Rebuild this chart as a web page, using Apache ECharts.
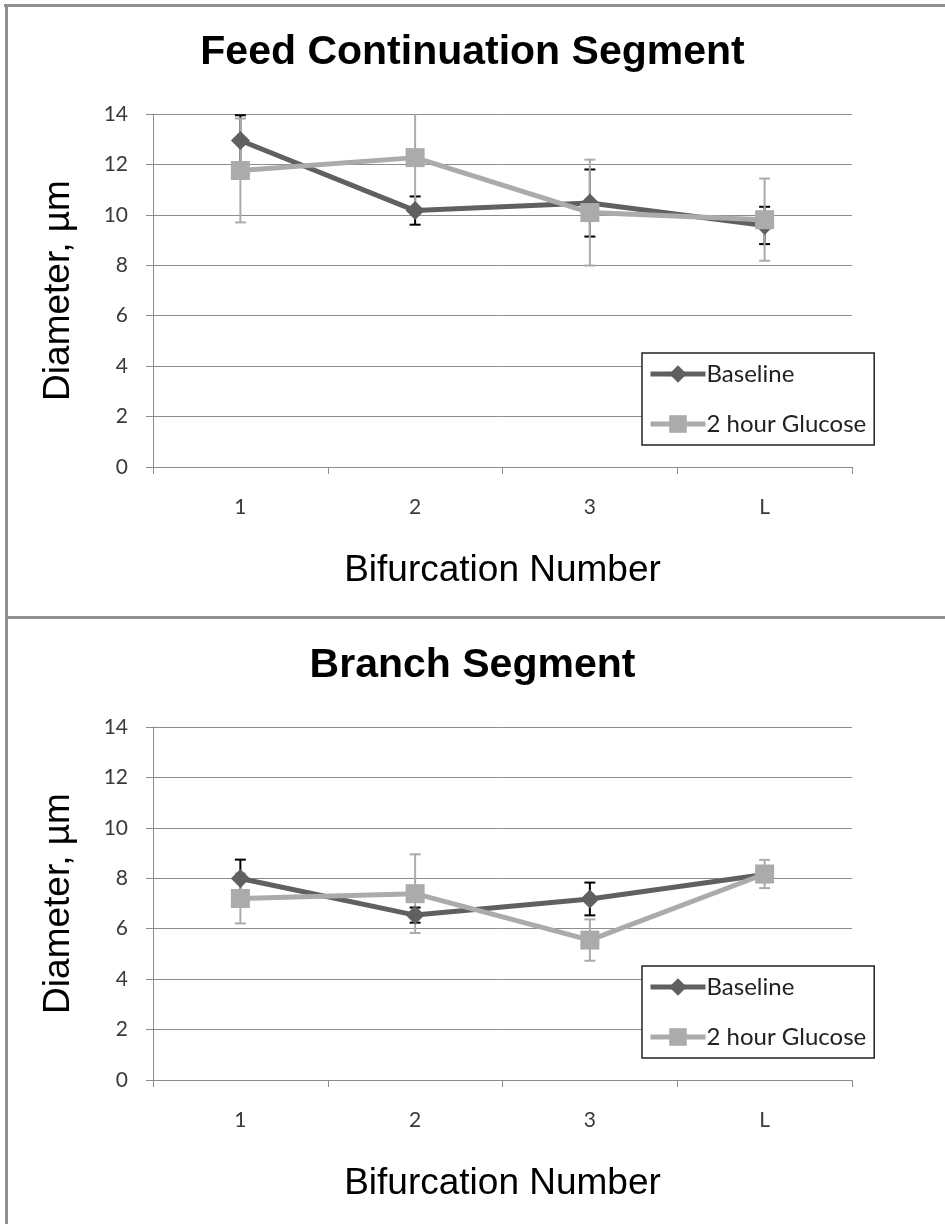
<!DOCTYPE html>
<html>
<head>
<meta charset="utf-8">
<script src="https://cdn.jsdelivr.net/npm/echarts@6/dist/echarts.min.js"></script>
<style>
  html, body { margin: 0; padding: 0; background: #ffffff; }
  #chart { width: 945px; height: 1224px; }
</style>
</head>
<body>
<div id="chart"></div>
<script>
// Bifurcation categories along the x axis
const categories = ['1', '2', '3', 'L'];

// Feed continuation segment diameters (µm) and their error half-widths
const feedBaseline = [12.95, 10.17, 10.47, 9.58];
const feedBaselineErr = [1.0, 0.56, 1.33, 0.74];
const feedGlucose = [11.76, 12.27, 10.09, 9.81];
const feedGlucoseErr = [2.06, 2.0, 2.1, 1.63];

// Branch segment diameters (µm) and their error half-widths
const branchBaseline = [7.99, 6.54, 7.18, 8.15];
const branchBaselineErr = [0.75, 0.3, 0.65, 0.3];
const branchGlucose = [7.20, 7.39, 5.55, 8.17];
const branchGlucoseErr = [0.99, 1.56, 0.82, 0.56];

const seriesNames = ['Baseline', '2 hour Glucose'];
const panelTitles = ['Feed Continuation Segment', 'Branch Segment'];
const xTitle = 'Bifurcation Number';
const yTitle = 'Diameter, µm';

const DARK = '#606060';
const LIGHT = '#ababab';
const AXIS = '#8c8c8c';
const TICK_FONT = 'Lato, "Open Sans", sans-serif';
const HEAD_FONT = '"Liberation Sans", Arial, sans-serif';

// [category index, low, high] rows for the error bars
function errRows(values, errs) {
  return values.map((v, i) => [i, v - errs[i], v + errs[i]]);
}

function errRenderer(color, width) {
  return function (params, api) {
    const idx = api.value(0);
    const top = api.coord([idx, api.value(2)]);
    const bot = api.coord([idx, api.value(1)]);
    const cap = 5.5;
    const style = { stroke: color, lineWidth: width };
    return {
      type: 'group',
      children: [
        { type: 'line', shape: { x1: top[0], y1: top[1], x2: bot[0], y2: bot[1] }, style },
        { type: 'line', shape: { x1: top[0] - cap, y1: top[1], x2: top[0] + cap, y2: top[1] }, style },
        { type: 'line', shape: { x1: bot[0] - cap, y1: bot[1], x2: bot[0] + cap, y2: bot[1] }, style }
      ]
    };
  };
}

const panels = [
  { top: 114, base: feedBaseline, baseErr: feedBaselineErr, glu: feedGlucose, gluErr: feedGlucoseErr },
  { top: 727, base: branchBaseline, baseErr: branchBaselineErr, glu: branchGlucose, gluErr: branchGlucoseErr }
];

const grid = [], xAxis = [], yAxis = [], series = [], legend = [], title = [];

panels.forEach((p, k) => {
  const off = k * 613;
  grid.push({ left: 153, top: p.top, width: 699, height: 353, containLabel: false });
  title.push({
    text: panelTitles[k],
    left: 'center',
    top: 32 + off,
    padding: 0,
    textStyle: { fontFamily: HEAD_FONT, fontWeight: 'bold', fontSize: 41, color: '#000000' }
  });
  xAxis.push({
    type: 'category',
    gridIndex: k,
    data: categories,
    boundaryGap: true,
    axisLine: { show: true, lineStyle: { color: AXIS, width: 1 } },
    axisTick: { show: true, length: 7, alignWithLabel: false, lineStyle: { color: AXIS } },
    axisLabel: { margin: 30, fontFamily: TICK_FONT, fontSize: 21, color: '#3a3a3a' },
    splitLine: { show: false },
    name: xTitle,
    nameLocation: 'middle',
    nameGap: 85,
    nameTextStyle: { fontFamily: HEAD_FONT, fontSize: 37, color: '#000000' }
  });
  yAxis.push({
    type: 'value',
    gridIndex: k,
    min: 0,
    max: 14,
    interval: 2,
    axisLine: { show: true, lineStyle: { color: AXIS, width: 1 } },
    axisTick: { show: true, length: 7, lineStyle: { color: AXIS } },
    axisLabel: { margin: 25, fontFamily: TICK_FONT, fontSize: 21, color: '#3a3a3a' },
    splitLine: { show: true, lineStyle: { color: AXIS, width: 1 } },
    name: yTitle,
    nameLocation: 'middle',
    nameGap: 76,
    nameTextStyle: { fontFamily: HEAD_FONT, fontSize: 37, color: '#000000' }
  });

  series.push({
    name: 'Baseline error',
    type: 'custom',
    xAxisIndex: k, yAxisIndex: k,
    clip: true,
    z: 1,
    encode: { x: 0, y: [1, 2] },
    renderItem: errRenderer('#000000', 2),
    data: errRows(p.base, p.baseErr),
    silent: true
  });
  series.push({
    name: 'Glucose error',
    type: 'custom',
    xAxisIndex: k, yAxisIndex: k,
    clip: true,
    z: 2,
    encode: { x: 0, y: [1, 2] },
    renderItem: errRenderer(LIGHT, 2),
    data: errRows(p.glu, p.gluErr),
    silent: true
  });
  series.push({
    name: seriesNames[0],
    type: 'line',
    xAxisIndex: k, yAxisIndex: k,
    z: 3,
    data: p.base,
    symbol: 'diamond',
    symbolSize: 19,
    showAllSymbol: true,
    itemStyle: { color: DARK },
    lineStyle: { color: DARK, width: 5 },
    animation: false
  });
  series.push({
    name: seriesNames[1],
    type: 'line',
    xAxisIndex: k, yAxisIndex: k,
    z: 4,
    data: p.glu,
    symbol: 'rect',
    symbolSize: 19,
    showAllSymbol: true,
    itemStyle: { color: LIGHT },
    lineStyle: { color: LIGHT, width: 5 },
    animation: false
  });

  legend.push({
    data: seriesNames,
    orient: 'vertical',
    left: 642,
    top: 353 + off,
    padding: [7, 8, 7, 6],
    itemGap: 22,
    itemWidth: 55,
    itemHeight: 22,
    lineStyle: { width: 5 },
    borderColor: '#222222',
    borderWidth: 1.5,
    backgroundColor: '#ffffff',
    selectedMode: false,
    textStyle: { fontFamily: TICK_FONT, fontSize: 24, color: '#222222', padding: [0, 0, 0, -4], lineHeight: 28 }
  });
});

const chart = echarts.init(document.getElementById('chart'), null, { renderer: 'canvas' });
chart.setOption({
  animation: false,
  backgroundColor: '#ffffff',
  title,
  grid,
  xAxis,
  yAxis,
  legend,
  series,
  graphic: [
    // outer frame and the divider between the two panels
    { type: 'line', shape: { x1: 4, y1: 5.5, x2: 945, y2: 5.5 }, style: { stroke: '#8f8f8f', lineWidth: 3 }, z: 100 },
    { type: 'line', shape: { x1: 6.5, y1: 4, x2: 6.5, y2: 1224 }, style: { stroke: '#8f8f8f', lineWidth: 3 }, z: 100 },
    { type: 'line', shape: { x1: 6, y1: 617.5, x2: 945, y2: 617.5 }, style: { stroke: '#8f8f8f', lineWidth: 3 }, z: 100 }
  ]
});
</script>
</body>
</html>
